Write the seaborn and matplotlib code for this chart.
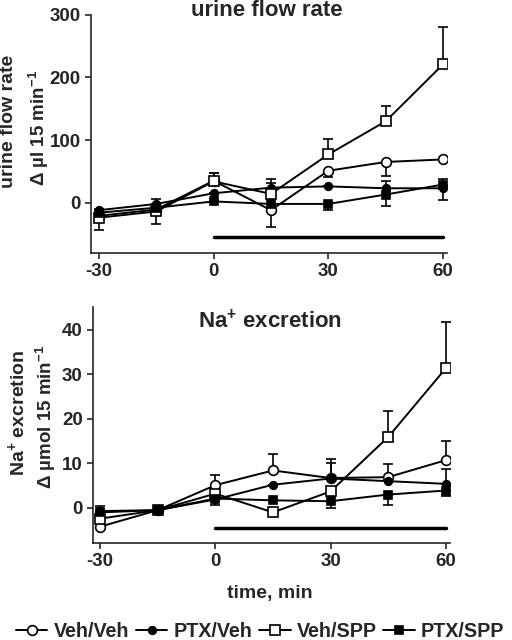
import matplotlib
matplotlib.use("Agg")
import matplotlib.pyplot as plt
import seaborn as sns
import pandas as pd

# time points (min)
time = [-30, -15, 0, 15, 30, 45, 60]
groups = ["Veh/Veh", "PTX/Veh", "Veh/SPP", "PTX/SPP"]

# urine flow rate, delta ul / 15 min
flow_veh_veh = [-21, -11, 35, -12, 51, 65, 69]
flow_ptx_veh = [-12, -2, 15, 24, 26, 23, 23]
flow_veh_spp = [-24, -14, 34, 14, 77, 130, 221]
flow_ptx_spp = [-16, -8, 2, -2, -2, 13, 29]
# error bars (lower, upper)
flow_err_veh_veh = ([0, 23, 0, 27, 10, 22, 0], [0, 0, 12, 0, 0, 0, 0])
flow_err_ptx_veh = ([0, 0, 0, 0, 0, 0, 0], [0, 8, 0, 8, 0, 12, 14])
flow_err_veh_spp = ([19, 0, 0, 0, 0, 0, 0], [0, 0, 13, 23, 25, 24, 59])
flow_err_ptx_spp = ([0, 0, 0, 0, 10, 19, 24], [0, 0, 0, 0, 0, 0, 0])

# Na+ excretion, delta umol / 15 min
na_veh_veh = [-4.2, -0.5, 5.1, 8.4, 6.7, 6.9, 10.7]
na_ptx_veh = [-0.7, -0.5, 1.9, 5.2, 6.6, 6.0, 5.4]
na_veh_spp = [-2.4, -0.5, 3.2, -1.0, 3.7, 15.9, 31.3]
na_ptx_spp = [-1.0, -0.5, 2.1, 1.7, 1.5, 3.0, 3.9]
na_err_veh_veh = ([0, 0, 0, 0, 0, 0, 0], [0, 0, 2.3, 3.7, 4.2, 3.0, 4.3])
na_err_ptx_veh = ([0, 0, 0, 0, 0, 0, 0], [1.1, 0, 0, 0, 3.4, 0, 3.4])
na_err_veh_spp = ([0, 0, 0, 0, 0, 0, 0], [0, 0, 0, 0, 0, 5.9, 10.4])
na_err_ptx_spp = ([0, 0, 1.4, 0, 1.5, 2.3, 1.3], [0, 0, 0, 0, 0, 0, 0])

# infusion period bar
infusion = [0, 60]
flow_bar_level = -54
na_bar_level = -4.5

sns.set_style("ticks")
plt.rcParams['font.family'] = ['Liberation Sans', 'DejaVu Sans']
plt.rcParams['font.weight'] = 'bold'
plt.rcParams['axes.unicode_minus'] = False
plt.rcParams['mathtext.fontset'] = 'custom'
plt.rcParams['mathtext.rm'] = 'Liberation Sans:bold'
plt.rcParams['mathtext.it'] = 'Liberation Sans:bold'
plt.rcParams['mathtext.bf'] = 'Liberation Sans:bold'
plt.rcParams['axes.linewidth'] = 1.2
plt.rcParams['xtick.major.width'] = 1.2
plt.rcParams['ytick.major.width'] = 1.2
plt.rcParams['xtick.major.size'] = 4
plt.rcParams['ytick.major.size'] = 4

styles = {
    "Veh/Veh": dict(marker='o', markerfacecolor='white', markersize=7),
    "PTX/Veh": dict(marker='o', markerfacecolor='black', markersize=5.5),
    "Veh/SPP": dict(marker='s', markerfacecolor='white', markersize=7),
    "PTX/SPP": dict(marker='s', markerfacecolor='black', markersize=6),
}

fig = plt.figure(figsize=(5.12, 6.4), dpi=100)
ax1 = fig.add_axes([0.178, 0.605, 0.695, 0.372])
ax2 = fig.add_axes([0.182, 0.152, 0.697, 0.368])


def draw(ax, series, errors, bar_level):
    for name, vals, err in zip(groups, series, errors):
        df = pd.DataFrame({'time': time, 'value': vals})
        ax.errorbar(df['time'], df['value'], yerr=[err[0], err[1]], fmt='none',
                    ecolor='black', elinewidth=1.2, capsize=3.5, capthick=1.2, zorder=2)
        sns.lineplot(data=df, x='time', y='value', ax=ax, color='black', lw=1.4,
                     markeredgecolor='black', markeredgewidth=1.2, label=name,
                     legend=False, zorder=3, **styles[name])
    ax.plot(infusion, [bar_level, bar_level], color='black', lw=2.5)
    ax.set_xticks([-30, 0, 30, 60])
    ax.set_xlabel('')
    ax.set_ylabel('')
    ax.tick_params(labelsize=13.5)
    for lab in ax.get_xticklabels() + ax.get_yticklabels():
        lab.set_fontweight('bold')
    sns.despine(ax=ax)


draw(ax1, [flow_veh_veh, flow_ptx_veh, flow_veh_spp, flow_ptx_spp],
     [flow_err_veh_veh, flow_err_ptx_veh, flow_err_veh_spp, flow_err_ptx_spp],
     flow_bar_level)
ax1.set_xlim(-32, 61)
ax1.set_ylim(-80, 300)
ax1.set_yticks([0, 100, 200, 300])

draw(ax2, [na_veh_veh, na_ptx_veh, na_veh_spp, na_ptx_spp],
     [na_err_veh_veh, na_err_ptx_veh, na_err_veh_spp, na_err_ptx_spp],
     na_bar_level)
ax2.set_xlim(-31.8, 61.1)
ax2.set_ylim(-7.8, 45)
ax2.set_yticks([0, 10, 20, 30, 40])

# titles and labels
fig.text(0.522, 0.984, 'urine flow rate', ha='center', va='center', fontsize=16, fontweight='bold')
fig.text(0.527, 0.497, 'Na$^{+}$ excretion', ha='center', va='center', fontsize=16, fontweight='bold')
fig.text(0.016, 0.81, 'urine flow rate', rotation=90, ha='center', va='center', fontsize=14, fontweight='bold')
fig.text(0.077, 0.80, 'Δ µl 15 min$^{-1}$', rotation=90, ha='center', va='center', fontsize=13.5, fontweight='bold')
fig.text(0.034, 0.355, 'Na$^{+}$ excretion', rotation=90, ha='center', va='center', fontsize=14, fontweight='bold')
fig.text(0.090, 0.348, 'Δ µmol 15 min$^{-1}$', rotation=90, ha='center', va='center', fontsize=13.5, fontweight='bold')
fig.text(0.527, 0.073, 'time, min', ha='center', va='center', fontsize=14, fontweight='bold')

handles, labels = ax2.get_legend_handles_labels()
fig.legend(handles, labels, loc='center', bbox_to_anchor=(0.508, 0.014), ncol=4,
           frameon=False, fontsize=14.2, handlelength=1.6, handletextpad=0.3,
           columnspacing=0.35, borderpad=0, borderaxespad=0)

fig.savefig('out.png', dpi=100)
